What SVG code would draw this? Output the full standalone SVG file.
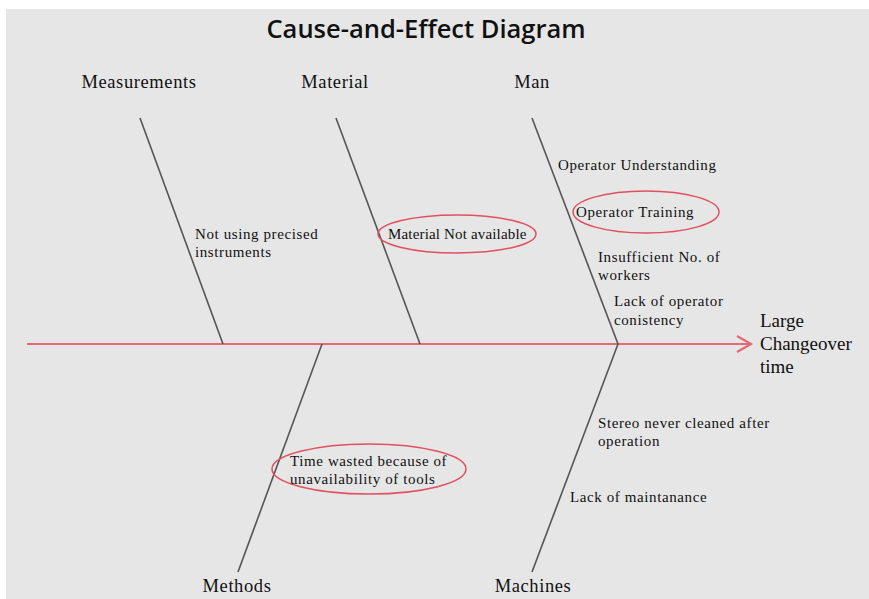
<svg xmlns="http://www.w3.org/2000/svg" width="869" height="599" viewBox="0 0 869 599">
<style>
.bone{stroke:#555;stroke-width:1.6;fill:none}
.spine{stroke:#e06a75;stroke-width:2.2;fill:none}
.oval{stroke:#e05060;stroke-width:1.5;fill:none}
.cat{font-family:"Liberation Serif",serif;font-size:18.5px;letter-spacing:0.6px;fill:#111}
.t{font-family:"Liberation Serif",serif;font-size:15px;letter-spacing:0.6px;fill:#111}
.eff{font-family:"Liberation Serif",serif;font-size:19px;fill:#111}
.title{font-family:"Open Sans","Liberation Sans",sans-serif;font-size:25.5px;font-weight:600;fill:#111}
</style>
<rect x="6" y="9" width="863" height="590" fill="#e6e6e6"/>
<text class="title" x="426" y="38" text-anchor="middle">Cause-and-Effect Diagram</text>
<g id="connectors">
<line class="spine" x1="27" y1="344" x2="750" y2="344"/>
<polyline class="spine" points="737,336 751,344 737,352"/>
<line class="bone" x1="140" y1="118" x2="223" y2="344"/>
<line class="bone" x1="336" y1="118" x2="420" y2="344"/>
<line class="bone" x1="532" y1="118" x2="618" y2="344"/>
<line class="bone" x1="322" y1="344" x2="238" y2="572"/>
<line class="bone" x1="618" y1="344" x2="532" y2="572"/>
</g>
<g id="measurements">
<text class="cat" x="139" y="88" text-anchor="middle">Measurements</text>
<text class="t" x="195" y="239">Not using precised</text>
<text class="t" x="195" y="257">instruments</text>
</g>
<g id="material">
<text class="cat" x="335" y="88" text-anchor="middle">Material</text>
<ellipse class="oval" cx="457" cy="234" rx="79" ry="19"/>
<text class="t" x="388" y="239" textLength="139" lengthAdjust="spacing">Material Not available</text>
</g>
<g id="man">
<text class="cat" x="532" y="88" text-anchor="middle">Man</text>
<text class="t" x="558" y="170">Operator Understanding</text>
<ellipse class="oval" cx="646" cy="212" rx="73" ry="21"/>
<text class="t" x="576" y="217">Operator Training</text>
<text class="t" x="598" y="262">Insufficient No. of</text>
<text class="t" x="598" y="280">workers</text>
<text class="t" x="614" y="306">Lack of operator</text>
<text class="t" x="614" y="325">conistency</text>
</g>
<g id="effect">
<text class="eff" x="760" y="327">Large</text>
<text class="eff" x="760" y="350">Changeover</text>
<text class="eff" x="760" y="373">time</text>
</g>
<g id="methods">
<text class="cat" x="237" y="592" text-anchor="middle">Methods</text>
<ellipse class="oval" cx="369" cy="469" rx="97" ry="25"/>
<text class="t" x="290" y="466">Time wasted because of</text>
<text class="t" x="290" y="484">unavailability of tools</text>
</g>
<g id="machines">
<text class="cat" x="533" y="592" text-anchor="middle">Machines</text>
<text class="t" x="598" y="428">Stereo never cleaned after</text>
<text class="t" x="598" y="446">operation</text>
<text class="t" x="570" y="502">Lack of maintanance</text>
</g>
</svg>
